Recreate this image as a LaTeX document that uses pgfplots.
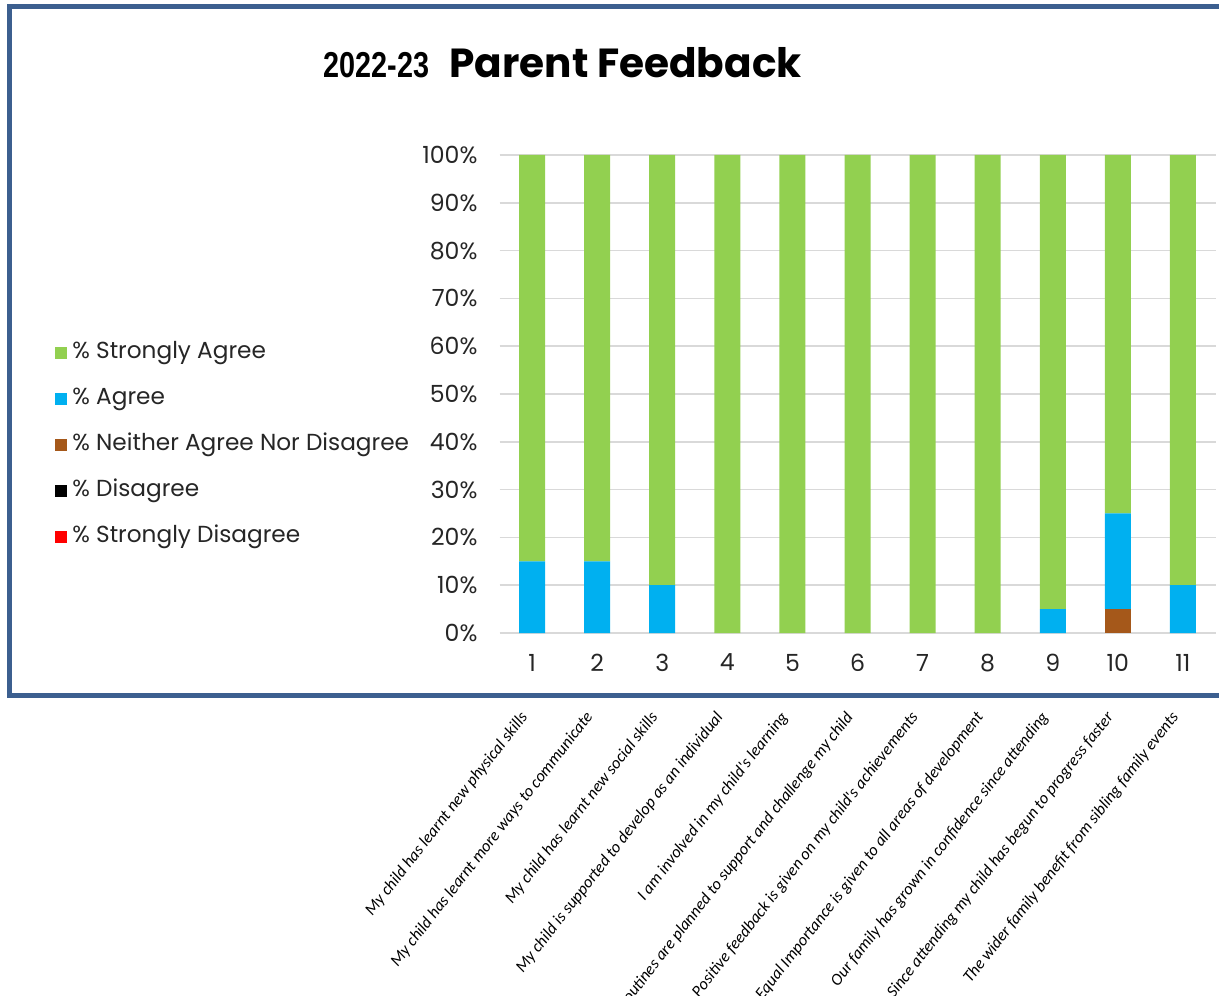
\documentclass[border=0pt]{standalone}
\usepackage{pgfplots}
\pgfplotsset{compat=1.18}
\usepackage{fontspec}
\setmainfont{Poppins}
\newfontfamily\calib{Carlito}
\newfontfamily\arialf{Liberation Sans}
\definecolor{sagree}{HTML}{92D050}
\definecolor{agree}{HTML}{00B0F0}
\definecolor{neither}{HTML}{A5581A}
\definecolor{sdis}{HTML}{FF0000}
\definecolor{frameblue}{HTML}{3C5F8F}
\definecolor{gridgray}{HTML}{D9D9D9}
\begin{document}
\begin{tikzpicture}
\useasboundingbox (0,0) rectangle (609.5pt,497.5pt);
\fill[white] (0,0) rectangle (609.5pt,497.5pt);
\draw[frameblue, line width=2.5pt] (615pt,494.25pt) -- (4.75pt,494.25pt) -- (4.75pt,149.5pt) -- (615pt,149.5pt);
\node[anchor=base west, inner sep=0pt] at (161.5pt,458.5pt) {\scalebox{0.8}[1]{\arialf\bfseries\fontsize{18}{20}\selectfont 2022-23}};
\node[anchor=base west, inner sep=0pt] at (224.5pt,458.5pt) {\bfseries\fontsize{20.3}{22}\selectfont Parent Feedback};
\begin{axis}[
  at={(249.75pt,181pt)}, anchor=south west,
  width=358pt, height=239pt, scale only axis,
  ybar stacked, bar width=13pt,
  xmin=0.5, xmax=11.5, ymin=0, ymax=100,
  axis line style={draw=none},
  major tick length=0pt,
  ymajorgrids, grid style={gridgray, line width=0.8pt},
  ytick={0,10,...,100},
  yticklabels={0\%,10\%,20\%,30\%,40\%,50\%,60\%,70\%,80\%,90\%,100\%},
  yticklabel style={font=\fontsize{11.8}{13}\selectfont, xshift=-7.5pt, text=black!85},
  xtick={1,...,11},
  xticklabels={1,2,3,4,5,6,7,8,9,10,11},
  xticklabel style={font=\fontsize{11.8}{13}\selectfont, yshift=-7pt, text=black!85},
  extra x ticks={1,...,11},
  extra x tick labels={My child has learnt new physical skills,
    My child has learnt more ways to communicate,
    My child has learnt new social skills,
    My child is supported to develop as an individual,
    I am involved in my child's learning,
    Routines are planned to support and challenge my child,
    Positive feedback is given on my child's achievements,
    Equal Importance is given to all areas of development,
    Our family has grown in confidence since attending,
    Since attending my child has begun to progress faster,
    The wider family benefit from sibling family events},
  extra x tick style={grid=none, major tick length=0pt,
    xticklabel style={font=\calib\itshape\fontsize{8.3}{9}\selectfont, text=black, yshift=-31pt, xshift=-1.5pt, rotate=52, anchor=east}},
  reverse legend,
  legend style={at={(-0.6208,0.3935)}, anchor=west, draw=none, fill=none,
    inner sep=0pt, row sep=12.5pt,
    font=\fontsize{11.6}{13}\selectfont,
    nodes={text height=8pt, text depth=2.5pt, inner ysep=0pt, inner xsep=2.5pt, text=black!85}},
  legend cell align=left,
  legend image code/.code={\fill[#1] (0pt,-3pt) rectangle (6pt,3pt);},
]
\addplot[fill=sdis, draw=none] coordinates {(1,0) (2,0) (3,0) (4,0) (5,0) (6,0) (7,0) (8,0) (9,0) (10,0) (11,0)};
\addlegendentry{\% Strongly Disagree}
\addplot[fill=black, draw=none] coordinates {(1,0) (2,0) (3,0) (4,0) (5,0) (6,0) (7,0) (8,0) (9,0) (10,0) (11,0)};
\addlegendentry{\% Disagree}
\addplot[fill=neither, draw=none] coordinates {(1,0) (2,0) (3,0) (4,0) (5,0) (6,0) (7,0) (8,0) (9,0) (10,5) (11,0)};
\addlegendentry{\% Neither Agree Nor Disagree}
\addplot[fill=agree, draw=none] coordinates {(1,15) (2,15) (3,10) (4,0) (5,0) (6,0) (7,0) (8,0) (9,5) (10,20) (11,10)};
\addlegendentry{\% Agree}
\addplot[fill=sagree, draw=none] coordinates {(1,85) (2,85) (3,90) (4,100) (5,100) (6,100) (7,100) (8,100) (9,95) (10,75) (11,90)};
\addlegendentry{\% Strongly Agree}
\end{axis}
\end{tikzpicture}
\end{document}
